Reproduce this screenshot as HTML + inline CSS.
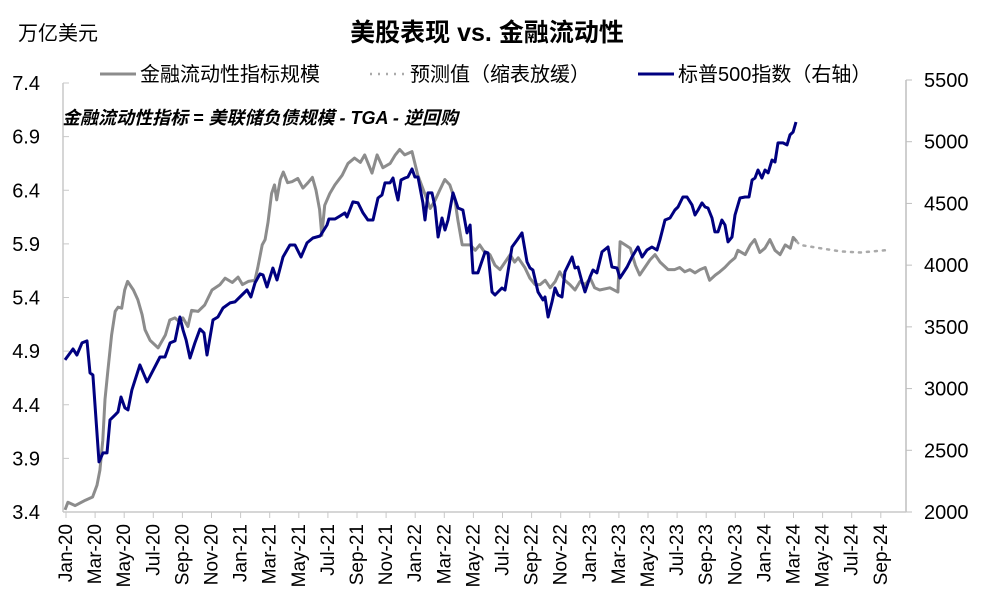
<!DOCTYPE html>
<html><head><meta charset="utf-8"><style>
body{margin:0;background:#fff;}
svg text{font-family:"Liberation Sans","Noto Sans CJK SC",sans-serif;}
</style></head><body>
<svg id="chart" width="994" height="606" viewBox="0 0 994 606" xmlns="http://www.w3.org/2000/svg">
<rect width="994" height="606" fill="#fff"/>
<text x="487" y="41" text-anchor="middle" font-size="25" font-weight="bold" fill="#000">美股表现 vs. 金融流动性</text>
<text x="18" y="40" font-size="20" fill="#000">万亿美元</text>
<g>
  <g>
    <line x1="100" y1="74" x2="136" y2="74" stroke="#8c8c8c" stroke-width="3"/>
    <text x="140" y="81" font-size="20" fill="#000">金融流动性指标规模</text>
  </g>
  <g>
    <line x1="370" y1="74" x2="406" y2="74" stroke="#aaa" stroke-width="2.5" stroke-dasharray="2,6"/>
    <text x="410" y="81" font-size="20" fill="#000">预测值（缩表放缓）</text>
  </g>
  <g>
    <line x1="638" y1="74" x2="674" y2="74" stroke="#000080" stroke-width="3"/>
    <text x="678" y="81" font-size="20" fill="#000">标普500指数（右轴）</text>
  </g>
</g>
<text x="62" y="124" font-size="18" font-style="italic" font-weight="bold" fill="#000">金融流动性指标 = 美联储负债规模 - TGA - 逆回购</text>
<g id="axes"></g>
<g id="series"></g>
</svg>
<script>
const leftTicks=[3.4,3.9,4.4,4.9,5.4,5.9,6.4,6.9,7.4];
const rightTicks=[2000,2500,3000,3500,4000,4500,5000,5500];
const xLabels=["Jan-20","Mar-20","May-20","Jul-20","Sep-20","Nov-20","Jan-21","Mar-21","May-21","Jul-21","Sep-21","Nov-21","Jan-22","Mar-22","May-22","Jul-22","Sep-22","Nov-22","Jan-23","Mar-23","May-23","Jul-23","Sep-23","Nov-23","Jan-24","Mar-24","May-24","Jul-24","Sep-24"];
const liqMonths=[0,0.2,0.7,1.4,1.9,2.2,2.4,2.6,2.75,2.95,3.2,3.45,3.65,3.9,4.1,4.3,4.7,5.0,5.3,5.5,5.85,6.4,6.9,7.2,7.55,7.9,8.1,8.45,8.7,9.15,9.6,10.1,10.65,11.0,11.5,11.9,12.2,12.6,13.05,13.25,13.55,13.75,13.95,14.2,14.4,14.55,14.8,15.0,15.3,15.6,16.0,16.35,16.7,17.0,17.25,17.5,17.65,17.85,18.2,18.55,19.05,19.45,19.9,20.3,20.6,21.1,21.45,21.85,22.35,22.7,23.0,23.35,23.85,24.25,24.75,25.1,25.45,25.75,26.1,26.45,26.8,27.0,27.3,27.85,28.2,28.5,28.85,29.2,29.55,29.9,30.25,30.6,30.9,31.15,31.6,31.95,32.3,32.65,33.0,33.35,33.7,34.0,34.35,34.7,35.05,35.4,35.75,36.1,36.4,36.75,37.45,38.0,38.15,38.5,38.85,39.2,39.5,39.85,40.2,40.55,40.9,41.45,41.9,42.25,42.6,42.95,43.3,43.65,44.0,44.3,44.7,45.0,45.35,45.7,46.05,46.25,46.75,47.1,47.4,47.75,48.1,48.45,48.8,49.15,49.5,49.85,50.05,50.3];
const liqValues=[3.42,3.49,3.46,3.51,3.54,3.65,3.79,4.07,4.45,4.72,5.05,5.27,5.31,5.30,5.47,5.55,5.47,5.38,5.24,5.10,5.00,4.93,5.05,5.19,5.21,5.17,5.21,5.13,5.28,5.27,5.33,5.47,5.52,5.58,5.54,5.59,5.52,5.55,5.56,5.68,5.89,5.94,6.10,6.37,6.45,6.31,6.50,6.57,6.47,6.48,6.51,6.42,6.47,6.52,6.40,6.22,5.98,6.26,6.37,6.45,6.54,6.65,6.70,6.66,6.73,6.56,6.73,6.61,6.65,6.73,6.78,6.73,6.76,6.54,6.36,6.23,6.31,6.40,6.50,6.45,6.31,6.12,5.89,5.89,5.84,5.89,5.82,5.80,5.70,5.66,5.73,5.80,5.73,5.77,5.68,5.58,5.52,5.52,5.56,5.49,5.55,5.64,5.56,5.52,5.47,5.55,5.52,5.58,5.49,5.47,5.49,5.45,5.92,5.89,5.86,5.70,5.61,5.68,5.75,5.80,5.73,5.66,5.66,5.68,5.64,5.66,5.63,5.66,5.68,5.56,5.61,5.64,5.68,5.73,5.77,5.84,5.80,5.89,5.94,5.82,5.86,5.94,5.84,5.80,5.89,5.86,5.96,5.92];
const fcMonths=[50.3,50.5,51.9,53.3,54.65,56.35];
const fcValues=[5.92,5.89,5.86,5.83,5.82,5.84];
const spMonths=[0,0.55,0.82,1.17,1.51,1.72,1.92,2.34,2.61,2.89,3.09,3.44,3.64,3.85,4.12,4.33,4.6,5.15,5.64,6.53,6.87,7.22,7.56,7.9,8.11,8.32,8.59,8.93,9.28,9.55,9.76,10.17,10.51,10.86,11.34,11.68,12.16,12.51,12.78,13.06,13.4,13.61,13.88,14.29,14.57,14.98,15.46,15.81,16.22,16.63,17.04,17.53,18.01,18.14,18.56,18.9,19.24,19.38,19.79,20.14,20.48,20.82,21.17,21.51,21.79,21.99,22.34,22.54,22.75,22.89,23.09,23.37,23.57,23.85,24.05,24.26,24.6,24.74,24.95,25.22,25.43,25.64,25.91,26.12,26.32,26.67,27.01,27.35,27.63,27.84,28.04,28.38,28.87,29.07,29.35,29.55,30.03,30.24,30.72,31.07,31.41,31.75,31.96,32.16,32.51,32.85,32.99,33.2,33.47,33.68,33.88,34.16,34.36,34.85,35.05,35.26,35.53,35.74,36.08,36.29,36.56,36.91,37.32,37.59,37.94,38.14,38.63,38.97,39.38,39.66,40.0,40.34,40.69,40.89,41.24,41.58,41.92,42.13,42.47,42.75,43.09,43.3,43.51,43.78,43.99,44.19,44.47,44.67,44.88,45.15,45.36,45.57,45.84,46.05,46.39,46.74,47.01,47.22,47.42,47.63,47.9,48.11,48.32,48.59,48.8,49.0,49.35,49.62,49.83,50.04,50.24];
const spValues=[3232,3321,3272,3370,3386,3127,3110,2406,2479,2479,2746,2787,2811,2932,2843,2827,2989,3192,3054,3256,3256,3370,3386,3580,3475,3394,3248,3370,3483,3451,3272,3556,3580,3653,3694,3702,3758,3799,3742,3856,3929,3921,3823,3977,3880,4066,4163,4163,4066,4180,4220,4236,4325,4374,4374,4398,4423,4390,4512,4504,4423,4366,4366,4544,4569,4666,4666,4706,4593,4528,4690,4706,4714,4779,4714,4714,4504,4366,4585,4585,4471,4228,4382,4285,4366,4585,4463,4447,4261,4325,3937,3937,4107,4099,3783,3758,3815,3799,4147,4204,4261,4026,3977,3961,3783,3718,3742,3580,3702,3815,3758,3742,3945,4066,3977,3985,3864,3783,3904,3961,3937,4107,4147,3985,3977,3896,3985,4066,4147,4066,4123,4147,4123,4204,4366,4382,4447,4471,4552,4552,4488,4406,4447,4504,4471,4463,4382,4269,4269,4366,4325,4188,4228,4406,4544,4552,4552,4690,4706,4771,4706,4771,4747,4852,4836,4990,4990,4974,5055,5079,5160];

const NS="http://www.w3.org/2000/svg";
const X0=65, PX_PER_MONTH=14.55, PLOT_L=63, PLOT_R=906, PLOT_T=83, PLOT_B=512;
function xS(m){return X0+m*PX_PER_MONTH;}
function yL(v){return PLOT_B-(v-3.4)/(7.4-3.4)*(PLOT_B-PLOT_T);}
function yR(v){return PLOT_B-(v-2000)/(5500-2000)*(PLOT_B-80);}
function mk(tag,attrs,parent){const e=document.createElementNS(NS,tag);for(const k in attrs)e.setAttribute(k,attrs[k]);parent.appendChild(e);return e;}
const axes=document.getElementById('axes'), series=document.getElementById('series');

const la=mk('line',{x1:PLOT_L,y1:PLOT_T,x2:PLOT_L,y2:PLOT_B,stroke:'#c8c8c8','stroke-width':1.5},axes);


const ra=mk('line',{x1:PLOT_R,y1:80,x2:PLOT_R,y2:PLOT_B,stroke:'#bfbfbf','stroke-width':1.5},axes);


const ba=mk('line',{x1:PLOT_L,y1:PLOT_B,x2:PLOT_R,y2:PLOT_B,stroke:'#c8c8c8','stroke-width':1.5},axes);



leftTicks.forEach(v=>{
  const t=mk('text',{x:40,y:yL(v)+7,'text-anchor':'end','font-size':20,fill:'#000'},axes);
  t.textContent=v.toFixed(1);
  
  
  const tk=mk('line',{x1:PLOT_L,y1:yL(v),x2:PLOT_L+6,y2:yL(v),stroke:'#c8c8c8','stroke-width':1},axes);
  
  
});
rightTicks.forEach(v=>{
  const t=mk('text',{x:924,y:yR(v)+7,'font-size':20,fill:'#000'},axes);
  t.textContent=String(v);
  
  
  const tk=mk('line',{x1:PLOT_R,y1:yR(v),x2:PLOT_R+6,y2:yR(v),stroke:'#bfbfbf','stroke-width':1},axes);
  
  
});
xLabels.forEach((lab,i)=>{
  const x=xS(i*2);
  const t=mk('text',{x:0,y:0,'text-anchor':'end','font-size':19,fill:'#000',transform:`translate(${x+7},${PLOT_B+12}) rotate(-90)`},axes);
  t.textContent=lab;
  
  
});
for(let m=0;m<=57;m+=2){
  const tk=mk('line',{x1:xS(m)+1,y1:PLOT_B,x2:xS(m)+1,y2:PLOT_B+6,stroke:'#c8c8c8','stroke-width':1},axes);
  
  
}
function path(ms,vs,ys){return ms.map((m,i)=>(i?'L':'M')+xS(m).toFixed(1)+','+ys(vs[i]).toFixed(1)).join('');}
const lq=mk('path',{d:path(liqMonths,liqValues,yL),fill:'none',stroke:'#8c8c8c','stroke-width':3,'stroke-linejoin':'round'},series);


const fc=mk('path',{d:path(fcMonths,fcValues,yL),fill:'none',stroke:'#aaa','stroke-width':2.5,'stroke-dasharray':'2,6','stroke-linecap':'round'},series);


const sp=mk('path',{d:path(spMonths,spValues,yR),fill:'none',stroke:'#000080','stroke-width':3,'stroke-linejoin':'round'},series);


</script>
</body></html>
